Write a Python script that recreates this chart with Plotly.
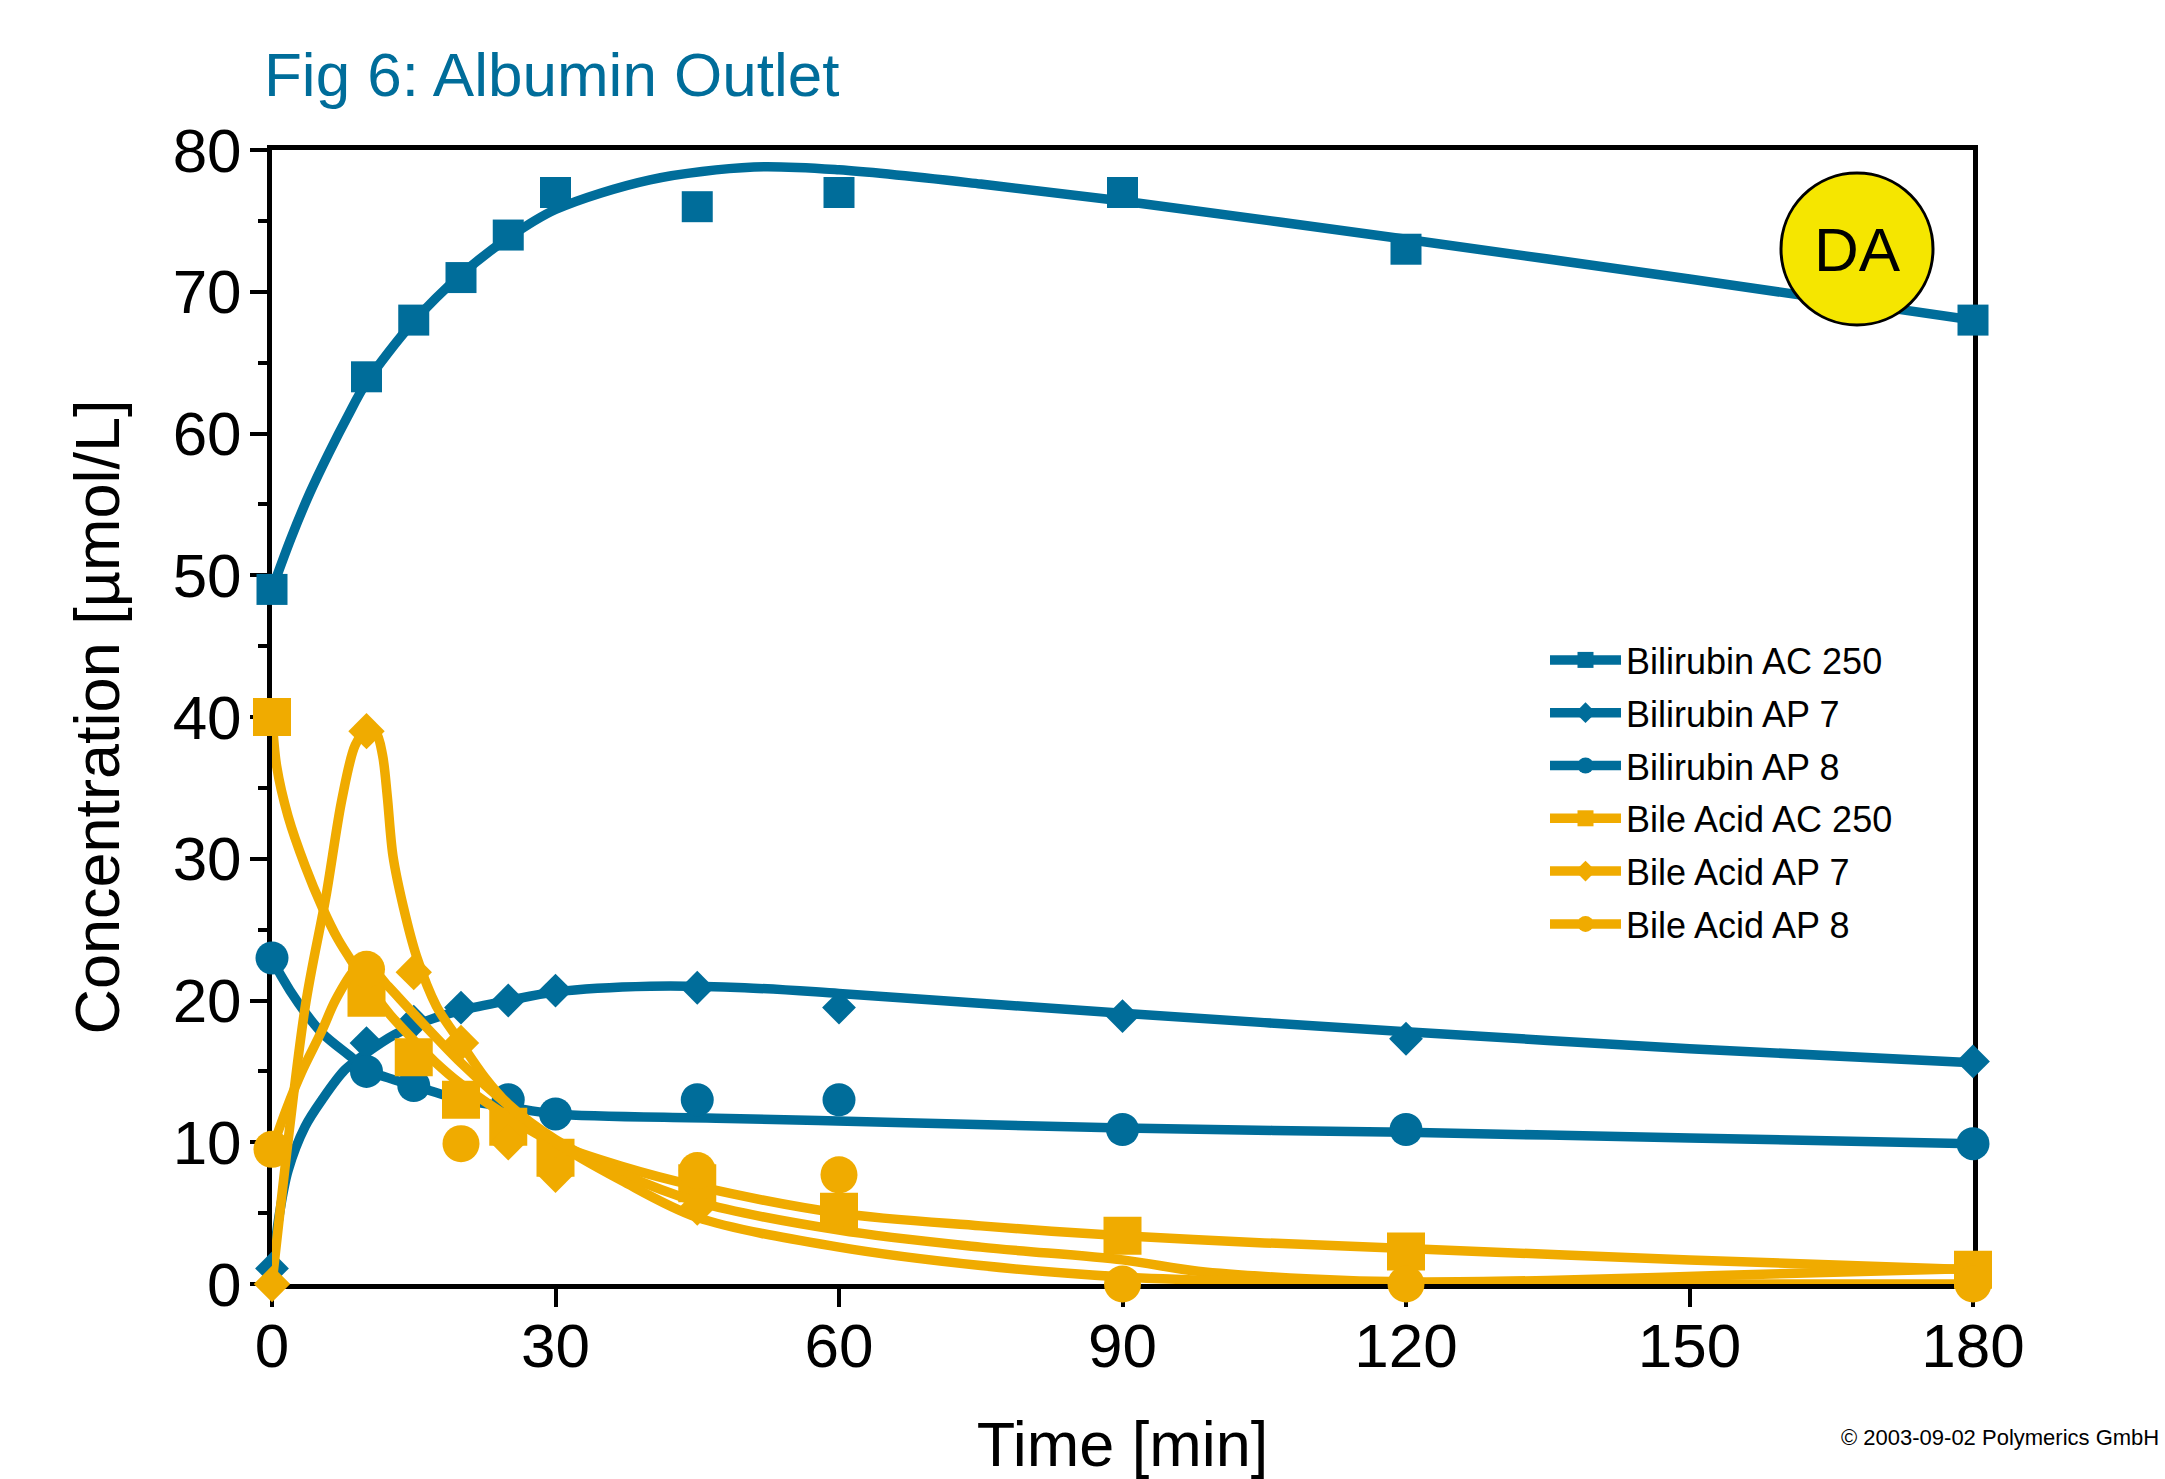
import plotly.graph_objects as go

BLUE = "#006D9A"
ORANGE = "#F0AB00"
FONT = "Liberation Sans, Arial, sans-serif"

# ---------------- measured data points ----------------
t_data = [0, 10, 15, 20, 25, 30, 45, 60, 90, 120, 180]
bili_ac250 = [49, 64, 68, 71, 74, 77, 76, 77, 77, 73, 68]
bili_ap7 = [1.1, 17, 18.5, 19.5, 20, 20.7, 20.9, 19.5, 18.9, 17.3, 15.7]
bili_ap8 = [23, 15, 14, 13, 13, 12, 13, 13, 10.9, 10.9, 9.9]
bile_ac250 = [40, 20.2, 16, 13, 11.1, 8.9, 7.1, 5.1, 3.4, 2.3, 1.0]
bile_ap7 = [0, 39, 22, 17, 10, 7.7, 5.4, None, None, None, None]
bile_ap8 = [9.5, 22.2, None, 9.9, None, None, 8.0, 7.7, 0, 0, 0]

# ---------------- fitted curves ----------------
fit_bili_ac250_t = [0, 2, 4, 6, 8, 10, 15, 20, 25, 30, 40, 51, 60, 75, 90, 120, 150, 180]
fit_bili_ac250_v = [49, 52.6, 55.8, 58.6, 61.2, 63.6, 67.9, 71.2, 73.8, 75.8, 77.9, 78.8, 78.6, 77.6, 76.4, 73.7, 70.9, 68.0]

fit_bili_ap7_t = [0, 0.8, 1.7, 3.5, 5.3, 7.7, 10, 13, 16.5, 20, 25, 30, 40, 50, 60, 90, 120, 150, 180]
fit_bili_ap7_v = [1.0, 5.0, 8.0, 11.1, 13.0, 15.1, 16.3, 17.6, 18.6, 19.3, 20.0, 20.6, 21.0, 20.9, 20.5, 19.1, 17.8, 16.6, 15.6]

fit_bili_ap8_t = [0, 1, 2.8, 5.3, 8.4, 10, 15, 20, 25, 30, 47, 66, 90, 120, 150, 180]
fit_bili_ap8_v = [23, 21.7, 19.8, 17.7, 16.0, 15.1, 14.0, 13.0, 12.5, 12.0, 11.7, 11.4, 11.0, 10.7, 10.3, 9.9]

fit_bile_ac250_t = [0, 0.5, 1.7, 3.5, 5.3, 7, 8.8, 10, 12.5, 15, 17.2, 20, 25, 30, 37, 45, 60, 75, 90, 105, 120, 150, 180]
fit_bile_ac250_v = [40, 36.5, 33, 29.5, 26.6, 24.3, 22.4, 21.2, 19, 17.2, 15.7, 14.1, 11.8, 9.9, 8.3, 6.9, 5.0, 4.1, 3.4, 2.9, 2.5, 1.7, 1.0]

fit_bile_ap7_t = [0, 3.5, 5.7, 7.4, 8.8, 10, 11, 11.7, 12.2, 12.8, 13.9, 15.3, 17.4, 20, 22.5, 25, 30, 37, 45, 60, 75, 90, 98, 110, 120, 135, 153, 180]
fit_bile_ap7_v = [0, 19.5, 27.3, 34.2, 38.0, 39.1, 38.9, 37.3, 34.4, 30.2, 26.6, 23.1, 19.6, 17.0, 14.6, 12.7, 10.2, 7.8, 5.8, 3.8, 2.6, 1.7, 0.9, 0.35, 0.15, 0.25, 0.6, 1.1]

fit_bile_ap8_t = [0, 1.5, 3.1, 5.3, 6.7, 8.8, 10, 12.3, 14.8, 17.5, 20, 25, 30, 37, 45, 60, 75, 90, 100, 120, 150, 180]
fit_bile_ap8_v = [9.5, 12.3, 14.9, 17.9, 20, 22.2, 22.6, 21, 19.2, 17.3, 15.6, 12.6, 10.0, 7.3, 4.7, 2.6, 1.3, 0.5, 0.25, 0.05, 0, 0]

x_ticks = [0, 30, 60, 90, 120, 150, 180]
y_ticks = [0, 10, 20, 30, 40, 50, 60, 70, 80]

series = [
    ("Bilirubin AC 250", BLUE, "square", 31, bili_ac250, fit_bili_ac250_t, fit_bili_ac250_v),
    ("Bilirubin AP 7", BLUE, "diamond", 26, bili_ap7, fit_bili_ap7_t, fit_bili_ap7_v),
    ("Bilirubin AP 8", BLUE, "circle", 33, bili_ap8, fit_bili_ap8_t, fit_bili_ap8_v),
    ("Bile Acid AC 250", ORANGE, "square", 38, bile_ac250, fit_bile_ac250_t, fit_bile_ac250_v),
    ("Bile Acid AP 7", ORANGE, "diamond", 28, bile_ap7, fit_bile_ap7_t, fit_bile_ap7_v),
    ("Bile Acid AP 8", ORANGE, "circle", 37, bile_ap8, fit_bile_ap8_t, fit_bile_ap8_v),
]

LW = 9.5
fig = go.Figure()
for name, col, sym, size, vals, ft, fv in series:
    fig.add_trace(go.Scatter(
        x=ft, y=fv, mode="lines", line=dict(color=col, width=LW, shape="spline", smoothing=0.9),
        legendgroup=name, showlegend=False, cliponaxis=False, hoverinfo="skip"))
    fig.add_trace(go.Scatter(
        x=t_data, y=vals, mode="markers", name=name,
        marker=dict(color=col, symbol=sym, size=size, line=dict(width=0)),
        legendgroup=name, showlegend=False, cliponaxis=False))
    # legend entry (line + symbol)
    fig.add_trace(go.Scatter(
        x=[None], y=[None], mode="lines+markers", name=name,
        line=dict(color=col, width=LW),
        marker=dict(color=col, symbol=sym, size=size),
        legendgroup=name, showlegend=True))

W, H = 2165, 1479
L, R, T, B = 272, 192, 150, 195
pw, ph = W - L - R, H - T - B

def px(x):
    return (x - L) / pw

def py(y):
    return (H - B - y) / ph

axis_common = dict(
    showline=True, linecolor="black", linewidth=5, mirror=True,
    ticks="outside", tickcolor="black", tickwidth=4,
    showgrid=False, zeroline=False, layer="below traces", automargin=False,
    tickfont=dict(family=FONT, size=62, color="black"),
)

fig.update_layout(
    template="none",
    width=W, height=H,
    margin=dict(l=L, r=R, t=T, b=B, autoexpand=False),
    paper_bgcolor="white", plot_bgcolor="white",
    font=dict(family=FONT, color="black"),
    xaxis=dict(range=[0, 180], tickvals=x_ticks, ticklen=18, ticklabelstandoff=-14,
               title=dict(text="Time [min]", font=dict(family=FONT, size=63), standoff=48),
               **axis_common),
    yaxis=dict(range=[0, 80], tickvals=y_ticks, ticklen=17, ticklabelstandoff=-4,
               minor=dict(dtick=5, tick0=0, ticks="outside", ticklen=9, tickwidth=4, tickcolor="black"),
               title=dict(text="Concentration [µmol/L]", font=dict(family=FONT, size=63), standoff=34),
               **axis_common),
    legend=dict(x=px(1545), y=py(630), xanchor="left", yanchor="top",
                font=dict(family=FONT, size=36, color="black"),
                bgcolor="rgba(0,0,0,0)", borderwidth=0, tracegroupgap=3, itemsizing="trace",
                itemwidth=71, traceorder="grouped"),
    showlegend=True,
    shapes=[dict(type="circle", xref="paper", yref="paper",
                 x0=px(1781), x1=px(1933), y0=py(325), y1=py(173),
                 fillcolor="#F5E600", line=dict(color="black", width=3), layer="above")],
    annotations=[
        dict(text="Fig 6: Albumin Outlet", xref="paper", yref="paper",
             x=px(262), y=py(111), xanchor="left", yanchor="bottom", showarrow=False,
             font=dict(family=FONT, size=62, color=BLUE)),
        dict(text="DA", xref="paper", yref="paper", x=px(1857), y=py(249),
             xanchor="center", yanchor="middle", showarrow=False,
             font=dict(family=FONT, size=62, color="black")),
        dict(text="© 2003-09-02 Polymerics GmbH", xref="paper", yref="paper",
             x=px(W - 4), y=py(1437), xanchor="right", yanchor="middle", showarrow=False,
             font=dict(family=FONT, size=22, color="black")),
    ],
)

fig.write_html("out.html", config={"displayModeBar": False},
               post_script="document.body.style.margin='0';document.body.style.overflow='hidden';")
